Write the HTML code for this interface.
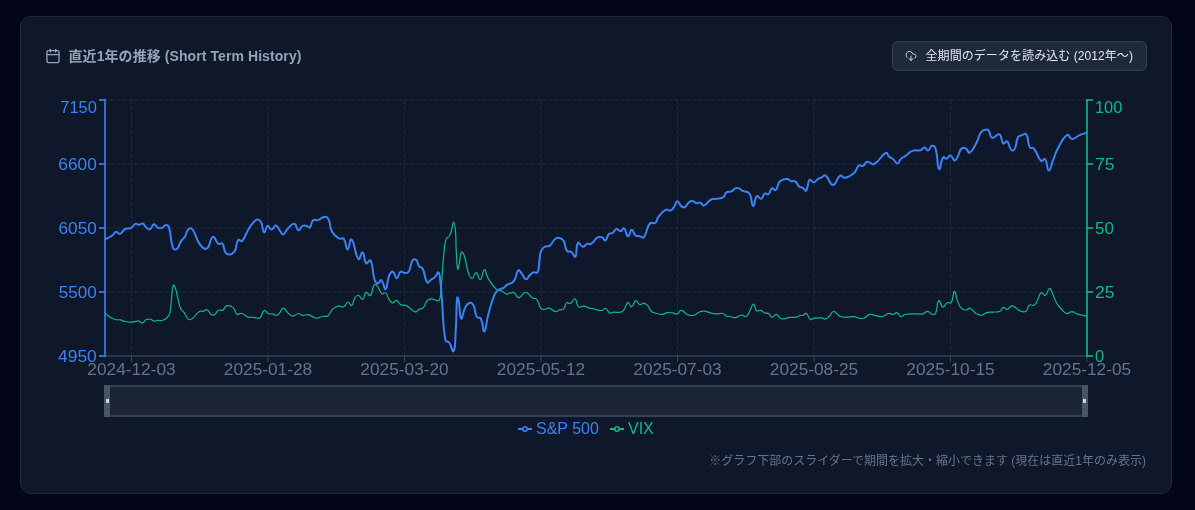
<!DOCTYPE html>
<html lang="ja"><head><meta charset="utf-8">
<style>
*{box-sizing:border-box;margin:0;padding:0}
html,body{width:1195px;height:510px;overflow:hidden;background:#020617}
body{position:relative;font-family:"Liberation Sans","Noto Sans CJK JP",sans-serif}
.card{position:absolute;left:20px;top:16px;width:1152px;height:478px;background:#0f172a;border:1px solid #1e293b;border-radius:11px}
.title{position:absolute;left:68.5px;letter-spacing:0.08px;top:46px;font-size:14px;line-height:20px;font-weight:700;color:#94a3b8;white-space:nowrap}
.cal{position:absolute;left:45px;top:48px}
.btn{position:absolute;left:892px;top:41px;width:255px;height:30px;background:#1e293b;border:1px solid #334155;border-radius:6px}
.btn .ic{position:absolute;left:12px;top:8px}
.btn .tx{position:absolute;left:32.5px;top:6px;font-size:12px;line-height:16px;color:#e2e8f0;white-space:nowrap;letter-spacing:0.07px}
.note{position:absolute;right:49px;top:453px;font-size:12px;line-height:16px;color:#64748b;white-space:nowrap}
svg.chart{position:absolute;left:0;top:0}
.yl{font-family:"Liberation Sans",sans-serif;font-size:16.4px}
.xl{font-family:"Liberation Sans",sans-serif;font-size:16px;fill:#64748b}
.lg{font-family:"Liberation Sans",sans-serif;font-size:16px}
</style></head><body>
<div class="card"></div>
<svg class="cal" width="16" height="16" viewBox="0 0 24 24" fill="none" stroke="#94a3b8" stroke-width="2" stroke-linecap="round" stroke-linejoin="round"><path d="M8 2v4"/><path d="M16 2v4"/><rect width="18" height="18" x="3" y="4" rx="2"/><path d="M3 10h18"/></svg>
<div class="title">直近1年の推移 (Short Term History)</div>
<div class="btn"><svg class="ic" width="12" height="12" viewBox="0 0 24 24" fill="none" stroke="#cbd5e1" stroke-width="2" stroke-linecap="round" stroke-linejoin="round"><path d="M4 14.899A7 7 0 1 1 15.71 8h1.79a4.5 4.5 0 0 1 2.5 8.242"/><path d="M12 12v9"/><path d="m8 17 4 4 4-4"/></svg><span class="tx">全期間のデータを読み込む (2012年〜)</span></div>
<svg class="chart" width="1195" height="510" viewBox="0 0 1195 510">
<line x1="104.5" y1="100.0" x2="1087" y2="100.0" stroke="#212c41" stroke-width="1" stroke-dasharray="4 2"/>
<line x1="104.5" y1="164.0" x2="1087" y2="164.0" stroke="#212c41" stroke-width="1" stroke-dasharray="4 2"/>
<line x1="104.5" y1="228.0" x2="1087" y2="228.0" stroke="#212c41" stroke-width="1" stroke-dasharray="4 2"/>
<line x1="104.5" y1="292.0" x2="1087" y2="292.0" stroke="#212c41" stroke-width="1" stroke-dasharray="4 2"/>
<line x1="131.54" y1="100" x2="131.54" y2="356" stroke="#1f2a3f" stroke-width="1" stroke-dasharray="4 2"/>
<line x1="268.03" y1="100" x2="268.03" y2="356" stroke="#1f2a3f" stroke-width="1" stroke-dasharray="4 2"/>
<line x1="404.53" y1="100" x2="404.53" y2="356" stroke="#1f2a3f" stroke-width="1" stroke-dasharray="4 2"/>
<line x1="541.02" y1="100" x2="541.02" y2="356" stroke="#1f2a3f" stroke-width="1" stroke-dasharray="4 2"/>
<line x1="677.52" y1="100" x2="677.52" y2="356" stroke="#1f2a3f" stroke-width="1" stroke-dasharray="4 2"/>
<line x1="814.01" y1="100" x2="814.01" y2="356" stroke="#1f2a3f" stroke-width="1" stroke-dasharray="4 2"/>
<line x1="950.51" y1="100" x2="950.51" y2="356" stroke="#1f2a3f" stroke-width="1" stroke-dasharray="4 2"/>
<line x1="105" y1="356" x2="1087" y2="356" stroke="#334155" stroke-width="1.6"/>
<line x1="131.54" y1="356" x2="131.54" y2="362" stroke="#3b4a5e" stroke-width="1"/>
<line x1="268.03" y1="356" x2="268.03" y2="362" stroke="#3b4a5e" stroke-width="1"/>
<line x1="404.53" y1="356" x2="404.53" y2="362" stroke="#3b4a5e" stroke-width="1"/>
<line x1="541.02" y1="356" x2="541.02" y2="362" stroke="#3b4a5e" stroke-width="1"/>
<line x1="677.52" y1="356" x2="677.52" y2="362" stroke="#3b4a5e" stroke-width="1"/>
<line x1="814.01" y1="356" x2="814.01" y2="362" stroke="#3b4a5e" stroke-width="1"/>
<line x1="950.51" y1="356" x2="950.51" y2="362" stroke="#3b4a5e" stroke-width="1"/>
<line x1="1087.00" y1="356" x2="1087.00" y2="362" stroke="#3b4a5e" stroke-width="1"/>
<path d="M105.00,312.90 C107.20,314.85 106.95,315.23 109.40,316.80 C112.10,318.53 112.22,318.65 115.30,319.50 C117.82,320.20 118.02,319.40 120.60,319.90 C122.12,320.20 121.98,320.77 123.50,321.10 C126.98,321.87 127.04,322.08 130.60,322.10 C134.69,322.13 134.83,320.90 138.80,321.20 C140.73,321.35 140.75,323.36 142.40,323.00 C144.60,322.51 144.17,320.49 146.50,319.50 C148.27,318.74 148.64,319.09 150.60,319.50 C152.44,319.89 152.29,320.89 154.10,321.10 C155.79,321.29 155.82,320.46 157.60,320.30 C160.22,320.06 160.59,321.27 162.90,320.30 C166.19,318.92 166.92,318.63 168.80,315.60 C170.77,312.43 170.03,311.81 170.60,307.90 C172.23,296.71 171.15,294.14 173.20,285.40 C173.50,284.14 174.77,286.39 175.30,287.90 C177.27,293.54 176.69,293.82 178.20,299.70 C179.34,304.12 178.75,304.45 180.60,308.50 C181.70,310.90 182.49,310.44 184.10,312.60 C186.59,315.94 185.91,317.73 188.80,319.50 C190.31,320.43 191.19,319.29 192.90,318.00 C196.49,315.29 195.74,313.85 199.40,311.50 C201.04,310.45 201.52,311.66 203.50,311.20 C205.37,310.76 205.62,309.08 207.10,309.70 C209.47,310.68 208.77,312.77 211.20,314.40 C212.57,315.32 213.36,315.58 214.70,314.80 C216.86,313.53 215.95,311.59 218.20,310.30 C220.05,309.24 221.01,311.13 222.90,310.10 C225.16,308.88 224.20,306.42 226.50,305.80 C229.20,305.07 230.53,305.48 232.90,307.40 C235.83,309.78 234.34,312.50 237.10,314.40 C238.64,315.45 239.46,312.79 241.50,313.30 C244.86,314.14 244.47,315.98 247.90,317.10 C250.62,317.98 250.86,317.08 253.80,317.30 C256.76,317.53 257.58,319.36 259.70,318.00 C262.78,316.01 261.48,311.90 264.20,310.60 C265.88,309.80 266.12,312.89 268.50,313.80 C270.32,314.49 270.63,313.42 272.60,313.80 C274.48,314.17 274.47,315.38 276.20,315.30 C277.72,315.23 277.92,314.70 279.10,313.50 C281.42,311.15 280.99,308.35 283.20,308.20 C285.39,308.05 285.37,310.77 287.90,312.90 C290.07,314.72 290.12,315.96 292.60,316.10 C295.42,316.26 295.58,313.75 298.50,313.50 C300.33,313.35 300.18,315.05 302.10,315.30 C304.88,315.65 305.07,314.46 307.90,314.70 C309.77,314.86 309.70,315.39 311.50,316.10 C314.15,317.14 314.12,318.10 316.80,318.20 C319.42,318.30 319.39,317.04 322.10,316.50 C324.69,315.99 325.10,317.01 327.40,316.10 C328.90,315.51 328.64,314.87 329.70,313.50 C331.54,311.12 330.96,310.46 333.20,308.60 C335.36,306.81 335.73,306.70 338.50,306.20 C341.03,305.75 341.64,307.67 343.80,306.70 C346.34,305.57 345.77,302.33 347.90,302.00 C349.62,301.73 350.20,306.31 351.50,305.50 C353.75,304.11 352.64,301.04 355.00,297.60 C356.14,295.94 356.91,294.92 358.50,295.30 C360.71,295.82 360.97,300.02 362.60,299.40 C364.82,298.57 363.88,293.54 366.20,292.40 C367.73,291.64 369.05,296.80 370.30,295.60 C373.10,292.90 371.61,288.61 374.30,284.60 C374.96,283.61 376.11,284.54 377.00,285.60 C379.91,289.09 378.83,291.09 381.90,293.70 C383.13,294.74 384.37,291.95 385.60,292.90 C387.87,294.65 386.91,296.25 388.90,299.10 C390.41,301.25 390.58,302.55 392.60,302.90 C394.33,303.20 394.67,300.01 396.40,300.40 C398.72,300.91 398.16,303.32 400.70,304.70 C402.76,305.82 403.31,304.61 405.60,305.40 C407.66,306.11 407.55,306.48 409.40,307.70 C412.40,309.68 412.32,311.28 415.30,311.80 C417.17,312.13 417.10,310.41 419.10,309.40 C421.15,308.36 421.93,309.30 423.40,307.70 C425.93,304.95 424.57,303.45 427.10,300.70 C428.62,299.05 429.26,299.03 431.50,298.90 C433.61,298.78 433.61,299.76 435.80,300.20 C437.36,300.51 438.24,301.43 439.00,300.40 C440.64,298.18 440.25,297.12 440.60,293.70 C442.95,270.87 442.06,270.74 444.40,247.90 C444.86,243.44 444.59,243.12 446.20,239.10 C446.94,237.27 448.06,237.92 449.10,236.20 C450.71,233.52 450.55,233.33 451.50,230.30 C452.75,226.28 452.52,222.10 453.50,222.10 C454.47,222.10 455.00,226.13 455.40,230.30 C456.35,240.23 455.61,240.31 456.20,250.30 C456.76,259.71 456.55,263.50 457.70,269.10 C458.00,270.55 458.57,266.79 459.10,264.40 C460.47,258.29 459.61,255.03 461.50,252.10 C462.26,250.93 463.62,253.85 464.40,256.20 C467.12,264.40 465.68,265.04 468.50,273.20 C469.53,276.19 470.29,278.64 472.10,278.50 C474.14,278.34 474.29,272.32 476.20,272.60 C478.39,272.92 478.53,280.33 480.30,279.70 C482.63,278.88 482.32,270.19 484.40,269.70 C486.12,269.29 485.59,274.12 487.90,277.90 C491.54,283.87 491.32,284.59 496.30,289.20 C498.67,291.39 499.58,290.09 502.60,291.50 C504.83,292.54 504.60,293.70 506.80,294.10 C508.45,294.40 508.50,293.18 510.30,292.90 C512.30,292.58 512.77,291.97 514.40,292.90 C516.87,294.32 516.18,297.70 518.50,297.60 C521.78,297.45 522.10,292.33 525.60,292.40 C529.15,292.48 528.88,295.54 532.60,297.90 C534.48,299.09 535.50,297.84 536.80,299.50 C539.65,303.14 538.12,304.87 540.90,308.50 C541.92,309.82 542.65,309.46 544.40,309.40 C546.75,309.31 546.88,307.74 549.10,308.20 C552.48,308.89 552.32,311.24 555.60,311.70 C557.62,311.99 557.55,310.35 559.70,309.70 C561.35,309.20 562.09,310.51 563.20,309.40 C565.64,306.96 564.38,304.61 566.80,302.60 C567.93,301.66 568.86,304.17 570.30,303.50 C572.96,302.27 573.23,298.09 575.00,298.80 C577.33,299.74 575.70,304.60 578.50,306.80 C580.40,308.30 581.55,305.82 584.40,306.20 C586.85,306.52 586.66,307.53 589.10,308.20 C591.96,308.98 592.10,308.45 595.00,309.10 C596.80,309.50 596.70,310.00 598.50,310.30 C600.25,310.60 600.40,310.73 602.10,310.30 C603.95,309.83 604.10,307.99 605.60,308.50 C607.90,309.29 607.28,311.84 609.70,312.90 C611.38,313.64 611.73,312.22 613.80,312.10 C616.13,311.97 616.20,312.69 618.50,312.40 C620.90,312.09 621.60,312.57 623.20,310.90 C626.30,307.67 625.27,303.90 627.90,302.60 C629.42,301.85 629.82,307.22 631.50,306.80 C633.82,306.22 633.56,301.28 635.90,300.60 C637.51,300.13 637.27,303.80 639.40,304.50 C641.37,305.15 641.86,303.08 644.10,303.30 C645.96,303.48 646.29,303.84 647.60,305.30 C649.84,307.79 648.81,308.93 651.20,311.20 C652.96,312.88 653.47,312.47 655.90,313.20 C658.77,314.07 658.88,314.52 661.80,314.40 C664.73,314.27 664.65,313.12 667.60,312.70 C669.95,312.37 670.04,312.55 672.40,312.90 C674.79,313.25 675.04,314.68 677.10,314.10 C679.44,313.43 679.01,310.27 681.20,310.40 C684.26,310.57 684.12,313.32 687.60,314.70 C690.27,315.77 690.74,315.93 693.50,315.30 C696.64,314.58 696.29,313.20 699.40,312.00 C701.59,311.15 701.78,310.96 704.10,311.20 C707.68,311.56 707.61,312.38 711.20,313.20 C713.51,313.73 713.54,313.84 715.90,313.90 C719.39,313.99 719.67,312.80 722.90,313.50 C724.97,313.95 724.51,315.36 726.50,316.20 C728.06,316.86 728.27,316.22 730.00,316.50 C732.67,316.92 732.72,317.91 735.30,317.60 C738.62,317.21 738.53,315.44 741.80,315.10 C743.83,314.89 744.21,317.03 745.90,316.50 C747.71,315.93 747.60,314.86 748.80,312.90 C751.40,308.66 751.28,304.70 753.50,304.10 C755.13,303.65 754.23,308.78 756.50,310.80 C757.78,311.93 758.71,309.92 760.60,310.40 C762.81,310.97 762.51,312.04 764.70,312.90 C766.46,313.59 766.95,312.55 768.50,313.50 C770.65,314.80 770.13,317.17 772.10,317.40 C773.98,317.62 774.25,314.21 776.20,314.40 C778.35,314.61 777.98,316.85 780.30,318.20 C781.78,319.05 782.06,318.95 783.80,318.80 C786.76,318.55 786.71,317.81 789.70,317.40 C792.91,316.96 793.04,317.67 796.20,317.10 C798.34,316.72 798.20,316.10 800.30,315.50 C801.70,315.10 801.87,315.62 803.20,315.10 C804.82,314.47 805.05,312.50 806.20,313.20 C808.60,314.65 807.70,317.81 810.30,319.40 C811.80,320.31 812.30,318.48 814.40,318.20 C817.90,317.73 818.01,317.60 821.50,317.90 C823.31,318.05 823.36,319.40 825.00,319.10 C827.16,318.70 827.34,318.13 829.10,316.50 C831.44,314.33 830.85,312.42 833.20,311.50 C834.70,310.92 835.12,312.32 836.80,313.50 C838.67,314.82 838.22,315.79 840.30,316.50 C843.52,317.59 843.85,317.05 847.40,317.10 C850.90,317.15 850.97,316.38 854.40,316.70 C856.82,316.93 856.69,317.82 859.10,318.20 C861.39,318.57 861.67,318.96 863.80,318.20 C866.97,317.06 866.55,315.26 869.70,314.40 C871.85,313.81 872.04,314.92 874.40,315.30 C878.49,315.97 878.68,317.00 882.60,316.50 C885.73,316.10 885.42,314.11 888.50,313.50 C890.72,313.06 890.93,314.62 893.20,314.40 C895.08,314.22 895.22,312.23 896.80,312.70 C899.07,313.38 898.66,316.19 900.90,316.70 C902.61,317.09 902.60,314.96 904.70,314.50 C909.20,313.51 909.39,313.99 914.10,313.80 C918.24,313.64 918.41,314.51 922.40,313.80 C925.16,313.31 925.09,311.32 927.60,311.40 C929.79,311.47 929.54,313.40 931.80,314.10 C933.39,314.60 934.58,315.18 935.30,313.80 C938.08,308.43 936.37,302.74 938.80,300.60 C940.17,299.39 940.58,306.51 942.90,307.10 C944.73,307.56 944.62,304.01 947.10,302.70 C948.77,301.81 950.26,304.16 951.20,302.70 C953.91,298.51 952.70,291.80 954.40,291.40 C955.90,291.05 955.67,296.44 957.60,301.20 C959.07,304.84 958.67,305.52 961.20,308.20 C962.82,309.92 963.57,310.00 965.90,310.00 C967.97,310.00 968.18,307.64 970.00,308.20 C972.88,309.09 972.35,311.03 975.30,312.90 C977.95,314.58 978.28,315.37 981.20,315.30 C984.18,315.22 984.02,313.44 987.10,312.60 C989.87,311.84 990.01,312.41 992.90,312.10 C996.46,311.71 996.92,312.56 1000.00,311.20 C1002.22,310.21 1001.52,307.90 1003.50,307.40 C1005.07,307.00 1005.39,309.71 1007.10,309.40 C1009.54,308.96 1009.32,306.22 1011.80,305.90 C1014.02,305.62 1014.28,306.84 1016.50,308.20 C1018.38,309.34 1017.99,310.26 1020.00,310.90 C1022.69,311.76 1023.75,312.52 1025.90,311.20 C1028.45,309.62 1026.92,306.91 1029.40,305.10 C1031.17,303.81 1032.58,306.24 1034.40,305.00 C1036.83,303.34 1036.27,302.22 1037.90,299.30 C1039.67,296.12 1038.94,293.99 1041.20,292.80 C1042.74,291.99 1043.92,296.14 1045.50,295.30 C1047.97,293.99 1047.27,289.44 1049.30,288.50 C1050.52,287.94 1050.96,290.23 1052.00,292.30 C1054.46,297.23 1053.60,297.72 1056.30,302.50 C1058.45,306.32 1058.64,306.36 1061.70,309.50 C1064.04,311.91 1064.20,312.98 1067.10,313.60 C1069.30,314.08 1069.51,311.65 1071.90,311.70 C1074.36,311.75 1074.25,313.04 1076.80,313.80 C1081.80,315.29 1081.90,315.00 1087.00,316.20" fill="none" stroke="#10b981" stroke-width="1.2" stroke-linejoin="round"/>
<path d="M105.00,239.60 C108.80,237.40 109.07,237.74 112.60,235.20 C114.42,233.89 113.87,232.27 115.70,231.90 C117.62,231.52 118.18,234.29 120.10,233.70 C122.88,232.84 122.18,230.50 125.10,229.00 C127.83,227.60 128.68,229.26 131.40,227.90 C133.78,226.71 133.05,224.83 135.30,223.90 C136.80,223.28 137.12,224.90 138.90,224.80 C140.82,224.70 141.12,222.92 142.70,223.50 C144.82,224.27 144.24,225.84 146.30,227.50 C147.84,228.74 148.41,229.91 149.90,229.30 C152.31,228.31 151.85,224.68 154.10,224.30 C155.95,223.98 155.81,226.86 158.10,227.90 C159.76,228.66 160.25,228.53 162.00,227.90 C164.15,227.13 163.97,225.21 165.90,225.10 C167.47,225.01 168.44,225.69 169.00,227.50 C171.99,237.09 169.69,238.90 173.00,247.90 C173.64,249.65 175.63,250.03 176.90,249.00 C179.53,246.88 178.55,245.10 180.80,241.60 C182.45,239.05 183.09,239.47 184.70,236.90 C187.04,233.17 185.96,231.56 188.70,229.00 C189.91,227.86 191.53,228.03 192.60,229.50 C196.98,235.48 195.00,237.67 199.60,243.90 C202.05,247.22 204.08,249.97 206.70,248.60 C210.78,246.47 209.47,238.31 213.00,236.90 C215.37,235.96 215.23,241.57 218.50,243.90 C219.93,244.92 221.34,242.32 222.40,243.60 C225.24,247.07 222.96,251.08 226.30,253.40 C228.86,255.18 231.88,254.44 234.20,251.80 C237.78,247.74 235.16,244.03 238.10,240.00 C239.06,238.68 240.82,242.39 242.00,241.10 C246.47,236.24 245.08,233.95 249.40,227.70 C252.48,223.25 252.80,221.65 256.80,219.70 C258.55,218.85 259.78,220.16 260.90,222.10 C263.43,226.46 262.11,231.17 264.10,232.30 C265.46,233.07 265.46,226.71 267.60,225.90 C269.16,225.31 269.54,229.57 271.50,229.50 C273.64,229.42 273.80,225.41 275.80,225.60 C277.90,225.81 277.73,227.96 279.70,230.30 C281.43,232.36 281.49,234.67 283.20,234.40 C285.34,234.07 284.98,231.43 287.40,229.10 C290.48,226.13 291.29,223.48 294.20,223.80 C296.84,224.08 296.13,229.71 298.50,230.30 C300.33,230.76 300.13,227.04 302.60,225.90 C304.58,224.99 305.12,225.66 307.40,226.20 C308.67,226.51 308.98,228.34 309.70,227.60 C311.88,225.39 310.61,222.67 313.20,220.30 C314.71,218.92 315.69,220.76 317.90,220.10 C321.59,219.01 321.55,217.13 325.00,216.80 C326.85,216.63 327.64,217.29 328.50,219.10 C331.19,224.79 329.04,226.21 332.10,231.80 C334.34,235.91 335.17,236.11 339.10,238.50 C341.02,239.66 342.55,237.28 343.80,238.90 C346.80,242.78 345.64,249.37 347.60,249.50 C349.49,249.62 349.64,237.76 351.50,239.40 C355.09,242.56 354.48,254.43 358.50,259.10 C360.03,260.88 361.03,251.46 362.60,252.30 C364.88,253.51 363.45,260.42 366.20,263.20 C367.45,264.47 369.72,258.67 370.60,260.40 C373.92,266.92 371.64,270.55 374.60,279.70 C375.34,282.00 376.24,283.17 378.00,283.30 C379.64,283.42 380.19,279.28 381.40,280.20 C383.99,282.18 383.99,290.07 385.60,289.10 C387.89,287.72 386.55,281.82 389.20,275.50 C390.20,273.12 391.34,271.14 392.90,271.70 C395.14,272.49 394.89,278.20 396.80,278.20 C398.69,278.20 398.05,273.38 400.50,271.70 C401.85,270.78 402.44,272.98 404.40,273.00 C406.49,273.03 407.52,273.48 408.60,271.80 C411.62,267.13 409.67,264.81 412.60,260.30 C413.47,258.96 415.07,259.07 416.20,260.10 C418.32,262.02 417.12,263.61 419.10,266.20 C420.32,267.81 421.70,266.70 422.60,268.50 C425.75,274.85 424.04,278.24 427.20,282.50 C428.19,283.84 429.00,281.03 430.90,279.70 C433.00,278.23 433.38,278.65 435.20,276.90 C437.18,275.00 437.56,271.47 438.50,272.40 C440.16,274.02 439.77,277.15 440.40,282.00 C441.42,289.75 441.13,289.80 441.80,297.60 C443.63,318.95 442.08,319.90 445.40,340.30 C445.73,342.35 447.87,340.83 449.10,342.50 C451.92,346.33 452.41,353.12 453.50,351.30 C455.71,347.62 455.02,341.43 455.70,331.50 C456.87,314.58 455.83,311.66 457.20,297.60 C457.33,296.21 458.39,298.96 458.70,300.60 C460.39,309.41 459.22,316.52 461.20,318.50 C462.52,319.82 462.50,312.37 465.30,307.20 C466.75,304.52 467.31,303.45 469.70,302.80 C471.36,302.35 472.48,303.18 473.40,305.00 C476.03,310.18 474.09,311.79 476.80,316.80 C477.74,318.54 479.79,316.74 480.70,318.50 C483.59,324.09 482.74,332.22 484.40,331.50 C486.44,330.62 485.87,323.30 488.10,315.30 C491.07,304.65 490.53,304.22 494.80,294.20 C496.03,291.32 496.60,291.32 499.10,289.50 C500.80,288.27 501.35,289.17 503.20,288.10 C505.50,286.77 505.12,286.10 507.40,284.70 C509.62,283.35 510.15,284.10 512.20,282.60 C513.90,281.35 513.95,281.13 514.90,279.20 C517.00,274.98 516.02,272.12 518.30,270.30 C519.47,269.37 520.22,271.85 521.80,273.70 C524.02,276.30 523.68,278.82 525.90,279.20 C527.78,279.52 527.86,277.04 530.00,275.10 C531.61,273.64 531.47,273.09 533.40,272.40 C535.22,271.74 536.77,273.95 537.50,272.40 C539.87,267.40 538.52,265.85 539.60,259.30 C540.27,255.20 539.54,254.85 541.00,251.10 C541.94,248.70 542.25,248.33 544.40,247.00 C546.70,245.58 547.75,247.22 549.90,245.60 C553.25,243.07 552.14,241.28 555.40,238.70 C556.94,237.48 557.63,237.52 559.50,238.00 C561.73,238.57 562.41,238.75 563.60,240.80 C566.21,245.30 564.35,247.12 567.10,251.10 C568.15,252.62 569.57,250.71 571.20,251.80 C573.67,253.46 574.25,257.99 575.30,256.60 C577.65,253.49 575.40,246.24 578.00,242.80 C579.15,241.29 580.32,246.40 582.80,246.70 C584.82,246.95 584.71,244.67 587.00,243.90 C588.86,243.27 589.47,244.90 591.10,243.90 C594.62,241.75 593.74,239.71 597.30,237.60 C599.24,236.46 599.99,236.68 602.10,237.40 C604.09,238.08 604.20,241.07 605.50,240.40 C607.60,239.32 606.59,236.34 608.90,233.90 C609.99,232.74 610.89,234.09 612.30,233.20 C614.69,231.69 614.17,229.66 616.50,229.10 C618.32,228.66 618.68,231.38 620.60,231.20 C622.43,231.03 622.76,227.56 624.00,228.40 C626.51,230.11 625.98,235.92 628.10,236.30 C629.88,236.62 629.87,229.98 631.80,229.80 C633.57,229.63 633.07,233.60 635.50,235.60 C636.97,236.80 637.57,235.78 639.60,236.20 C641.67,236.63 642.57,238.69 643.70,237.30 C647.72,232.34 645.62,228.81 649.90,223.50 C651.47,221.56 653.44,224.26 655.40,222.80 C657.54,221.21 656.25,219.74 658.10,217.40 C661.40,213.24 661.43,212.18 665.70,209.80 C667.63,208.73 668.44,211.18 670.50,210.50 C672.54,209.83 672.47,209.01 673.90,207.10 C675.92,204.41 675.47,201.48 677.40,201.30 C679.27,201.13 679.05,204.51 681.50,206.40 C682.80,207.41 683.57,207.83 684.90,207.10 C687.32,205.78 686.63,204.26 689.00,202.30 C690.38,201.16 690.75,200.70 692.40,200.90 C694.55,201.15 694.38,202.69 696.60,203.20 C698.33,203.59 698.63,202.21 700.30,202.70 C702.38,203.31 702.28,205.94 704.10,205.40 C707.63,204.34 707.15,201.55 711.00,199.50 C713.35,198.25 713.78,199.31 716.50,198.80 C719.93,198.16 720.59,198.95 723.30,197.20 C725.39,195.85 724.08,194.04 726.10,192.60 C728.23,191.09 729.10,192.47 731.60,191.30 C733.90,190.22 733.43,188.77 735.70,188.10 C737.53,187.57 737.92,188.12 739.80,188.90 C741.32,189.52 740.98,190.27 742.50,190.90 C744.73,191.82 745.18,190.94 747.30,192.00 C748.98,192.84 749.36,192.96 750.10,194.70 C752.31,199.96 751.39,205.63 753.20,206.00 C754.84,206.33 754.30,198.56 757.00,196.10 C758.25,194.96 759.41,199.33 761.10,198.80 C763.26,198.13 762.42,195.14 764.70,193.70 C766.07,192.84 767.13,195.15 768.40,194.20 C770.73,192.45 769.64,189.57 771.90,188.30 C773.29,187.52 774.51,191.12 775.70,190.10 C778.26,187.92 776.85,185.37 779.40,181.90 C780.75,180.07 781.30,180.25 783.50,179.50 C785.40,178.85 785.69,178.67 787.60,179.10 C789.49,179.52 789.21,180.63 791.10,181.20 C793.01,181.78 793.64,180.36 795.20,181.40 C797.74,183.11 796.85,184.61 799.30,186.70 C800.60,187.81 801.16,186.95 802.70,187.80 C804.61,188.85 805.23,191.63 806.20,190.50 C808.68,187.63 806.99,182.58 809.60,179.80 C810.74,178.58 811.73,182.67 813.70,182.50 C815.83,182.32 815.57,180.51 817.80,179.10 C819.37,178.11 819.61,178.52 821.30,177.70 C823.41,176.67 823.79,174.38 825.40,175.40 C829.59,178.03 829.14,184.92 832.90,185.00 C836.54,185.07 836.05,178.29 840.20,175.70 C841.90,174.64 842.44,178.16 844.60,177.70 C849.44,176.66 850.22,176.10 854.20,172.70 C857.42,169.95 855.98,167.74 859.00,165.40 C860.43,164.29 861.40,166.57 863.10,165.80 C865.50,164.72 864.76,162.10 867.20,161.70 C870.26,161.20 871.20,165.36 874.10,164.00 C880.50,161.01 880.05,155.78 885.80,153.00 C887.60,152.13 887.28,155.11 889.20,156.70 C891.03,158.21 891.48,157.67 893.30,159.20 C895.58,161.12 895.48,163.68 897.40,163.60 C899.28,163.53 898.82,160.89 900.90,158.90 C902.57,157.29 902.97,157.75 904.90,156.40 C908.72,153.75 908.24,152.54 912.40,150.90 C916.09,149.44 916.79,151.31 920.60,150.20 C922.79,149.56 922.55,147.33 924.40,147.40 C926.30,147.48 926.45,150.86 928.10,150.50 C930.15,150.06 929.67,146.50 931.80,145.80 C933.32,145.30 934.79,146.16 935.40,148.10 C938.44,157.81 936.64,166.20 939.10,169.10 C940.54,170.80 940.28,161.29 943.20,157.30 C944.08,156.09 945.14,159.11 946.70,158.70 C948.79,158.16 948.78,155.01 950.50,155.40 C952.73,155.91 952.55,160.09 954.60,160.50 C956.10,160.79 956.42,158.85 957.60,156.80 C959.87,152.85 958.70,151.30 961.50,148.50 C962.85,147.15 964.11,147.58 965.90,148.50 C968.21,149.68 967.99,153.56 969.70,152.70 C973.14,150.96 973.43,148.27 976.20,143.30 C979.08,138.12 977.83,137.17 981.00,132.40 C982.28,130.47 982.91,130.51 985.10,129.90 C986.66,129.46 987.49,129.14 988.50,130.30 C990.94,133.09 989.24,136.77 992.00,137.80 C994.74,138.82 996.96,133.08 999.50,134.40 C1002.56,135.98 1000.59,141.23 1003.20,143.60 C1004.39,144.68 1005.81,140.29 1007.10,141.30 C1009.81,143.44 1008.46,147.05 1011.20,149.90 C1012.21,150.95 1013.85,150.50 1014.60,149.10 C1017.25,144.15 1015.38,142.40 1018.00,137.20 C1018.83,135.55 1019.65,136.02 1021.50,135.40 C1023.80,134.62 1025.19,132.81 1026.30,134.40 C1029.29,138.71 1026.87,141.88 1029.70,147.20 C1030.62,148.93 1032.48,146.93 1033.80,148.50 C1038.28,153.83 1036.95,156.93 1041.30,161.00 C1042.55,162.18 1044.04,157.77 1045.00,159.00 C1047.79,162.57 1046.71,170.26 1048.80,170.60 C1050.71,170.91 1050.86,165.43 1053.00,160.30 C1055.71,153.78 1055.04,153.40 1058.50,147.30 C1062.24,140.70 1062.61,137.87 1067.40,134.90 C1069.31,133.72 1069.39,138.91 1071.90,139.00 C1075.24,139.11 1075.38,136.88 1079.10,135.30 C1082.93,133.68 1083.05,133.95 1087.00,132.60" fill="none" stroke="#3b82f6" stroke-width="2" stroke-linejoin="round"/>
<g stroke-opacity="0.8">
<line x1="105" y1="99" x2="105" y2="357" stroke="#3b82f6" stroke-width="2"/>
<line x1="1087" y1="99" x2="1087" y2="357" stroke="#10b981" stroke-width="2"/>
<line x1="99" y1="100" x2="105" y2="100" stroke="#3b82f6" stroke-width="2"/>
<line x1="1087" y1="100" x2="1093" y2="100" stroke="#10b981" stroke-width="2"/>
<line x1="99" y1="164" x2="105" y2="164" stroke="#3b82f6" stroke-width="2"/>
<line x1="1087" y1="164" x2="1093" y2="164" stroke="#10b981" stroke-width="2"/>
<line x1="99" y1="228" x2="105" y2="228" stroke="#3b82f6" stroke-width="2"/>
<line x1="1087" y1="228" x2="1093" y2="228" stroke="#10b981" stroke-width="2"/>
<line x1="99" y1="292" x2="105" y2="292" stroke="#3b82f6" stroke-width="2"/>
<line x1="1087" y1="292" x2="1093" y2="292" stroke="#10b981" stroke-width="2"/>
<line x1="99" y1="356" x2="105" y2="356" stroke="#3b82f6" stroke-width="2"/>
<line x1="1087" y1="356" x2="1093" y2="356" stroke="#10b981" stroke-width="2"/>
</g>
<rect x="105" y="386" width="982" height="30" fill="#1b2537" stroke="#334155" stroke-width="2"/>
<rect x="104" y="385" width="6" height="32" fill="#475569"/>
<rect x="1082" y="385" width="6" height="32" fill="#475569"/>
<rect x="106" y="399" width="3" height="4" fill="#cbd5e1"/>
<rect x="1083" y="399" width="3" height="4" fill="#cbd5e1"/>
<text x="96.8" y="113.0" text-anchor="end" class="yl" fill="#3b82f6">7150</text>
<text x="96.8" y="170.1" text-anchor="end" class="yl" fill="#3b82f6" textLength="38.5" lengthAdjust="spacingAndGlyphs">6600</text>
<text x="96.8" y="234.1" text-anchor="end" class="yl" fill="#3b82f6" textLength="38.3" lengthAdjust="spacingAndGlyphs">6050</text>
<text x="96.8" y="298.1" text-anchor="end" class="yl" fill="#3b82f6" textLength="38.0" lengthAdjust="spacingAndGlyphs">5500</text>
<text x="96.8" y="362.1" text-anchor="end" class="yl" fill="#3b82f6" textLength="38.8" lengthAdjust="spacingAndGlyphs">4950</text>
<text x="1095" y="113.0" class="yl" fill="#10b981">100</text>
<text x="1095" y="170.1" class="yl" fill="#10b981" textLength="19.6" lengthAdjust="spacingAndGlyphs">75</text>
<text x="1095" y="234.1" class="yl" fill="#10b981" textLength="18.9" lengthAdjust="spacingAndGlyphs">50</text>
<text x="1095" y="298.1" class="yl" fill="#10b981" textLength="19.6" lengthAdjust="spacingAndGlyphs">25</text>
<text x="1095" y="362.1" class="yl" fill="#10b981">0</text>
<text x="131.54" y="375" text-anchor="middle" class="xl" textLength="88.3" lengthAdjust="spacingAndGlyphs">2024-12-03</text>
<text x="268.03" y="375" text-anchor="middle" class="xl" textLength="88.3" lengthAdjust="spacingAndGlyphs">2025-01-28</text>
<text x="404.53" y="375" text-anchor="middle" class="xl" textLength="88.3" lengthAdjust="spacingAndGlyphs">2025-03-20</text>
<text x="541.02" y="375" text-anchor="middle" class="xl" textLength="88.3" lengthAdjust="spacingAndGlyphs">2025-05-12</text>
<text x="677.52" y="375" text-anchor="middle" class="xl" textLength="88.3" lengthAdjust="spacingAndGlyphs">2025-07-03</text>
<text x="814.01" y="375" text-anchor="middle" class="xl" textLength="88.3" lengthAdjust="spacingAndGlyphs">2025-08-25</text>
<text x="950.51" y="375" text-anchor="middle" class="xl" textLength="88.3" lengthAdjust="spacingAndGlyphs">2025-10-15</text>
<text x="1087.00" y="375" text-anchor="middle" class="xl" textLength="88.3" lengthAdjust="spacingAndGlyphs">2025-12-05</text>
<line x1="518" y1="429" x2="532" y2="429" stroke="#3b82f6" stroke-width="2"/>
<circle cx="525" cy="429" r="2.2" fill="#0f172a" stroke="#3b82f6" stroke-width="1.5"/>
<text x="536" y="433.8" class="lg" fill="#3b82f6">S&amp;P 500</text>
<line x1="610" y1="429" x2="624" y2="429" stroke="#10b981" stroke-width="2"/>
<circle cx="617" cy="429" r="2.2" fill="#0f172a" stroke="#10b981" stroke-width="1.5"/>
<text x="628" y="433.8" class="lg" fill="#10b981">VIX</text>
</svg>
<div class="note">※グラフ下部のスライダーで期間を拡大・縮小できます (現在は直近1年のみ表示)</div>
</body></html>
